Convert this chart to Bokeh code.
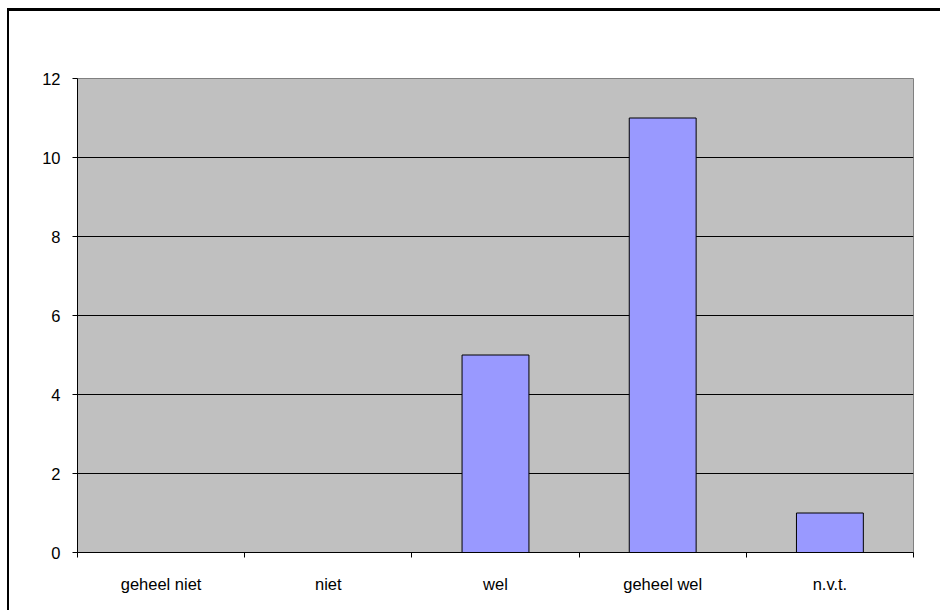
from bokeh.plotting import figure
from bokeh.models import FixedTicker, Range1d, ColumnDataSource
from bokeh.embed import file_html
from bokeh.resources import INLINE

# Answer categories and number of responses
categories = ["geheel niet", "niet", "wel", "geheel wel", "n.v.t."]
counts = [0, 0, 5, 11, 1]
y_ticks = [0, 2, 4, 6, 8, 10, 12]

centers = [i + 0.5 for i in range(len(categories))]
source = ColumnDataSource(data=dict(x=centers, top=counts))

p = figure(
    width=933, height=602,
    output_backend="svg", toolbar_location=None,
    x_range=Range1d(0, len(categories)), y_range=Range1d(0, 12),
    min_border_left=68, min_border_right=29, min_border_top=67, min_border_bottom=61,
    background_fill_color="#C0C0C0", border_fill_color="white",
    styles={"margin-left": "7px", "margin-top": "8px",
            "border-left": "2px solid black", "border-top": "3px solid black"},
)
p.outline_line_color = "#808080"
p.outline_line_width = 1

p.vbar(x="x", top="top", width=0.4, bottom=0, source=source,
       fill_color="#9999FF", line_color="black", line_width=1)

# y axis
p.yaxis.ticker = FixedTicker(ticks=y_ticks)
p.yaxis.axis_line_color = "black"
p.yaxis.major_tick_line_color = "black"
p.yaxis.major_tick_out = 5
p.yaxis.major_tick_in = 0
p.yaxis.minor_tick_line_color = None
p.yaxis.major_label_text_font = "Liberation Sans"
p.yaxis.major_label_text_font_size = "16.5px"
p.yaxis.major_label_text_color = "black"
p.yaxis.major_label_standoff = 12

# x axis: labels at category centres, tick marks between categories
p.xaxis.ticker = FixedTicker(ticks=centers, minor_ticks=list(range(len(categories) + 1)))
p.xaxis.major_label_overrides = {c: lab for c, lab in zip(centers, categories)}
p.xaxis.axis_line_color = "black"
p.xaxis.major_tick_line_color = None
p.xaxis.minor_tick_line_color = "black"
p.xaxis.minor_tick_out = 5
p.xaxis.minor_tick_in = 0
p.xaxis.major_label_text_font = "Liberation Sans"
p.xaxis.major_label_text_font_size = "16.5px"
p.xaxis.major_label_text_color = "black"
p.xaxis.major_label_standoff = 16

p.xgrid.grid_line_color = None
p.ygrid.ticker = FixedTicker(ticks=y_ticks)
p.ygrid.grid_line_color = "black"
p.ygrid.grid_line_width = 1

open("out.html", "w").write(file_html(p, INLINE))
